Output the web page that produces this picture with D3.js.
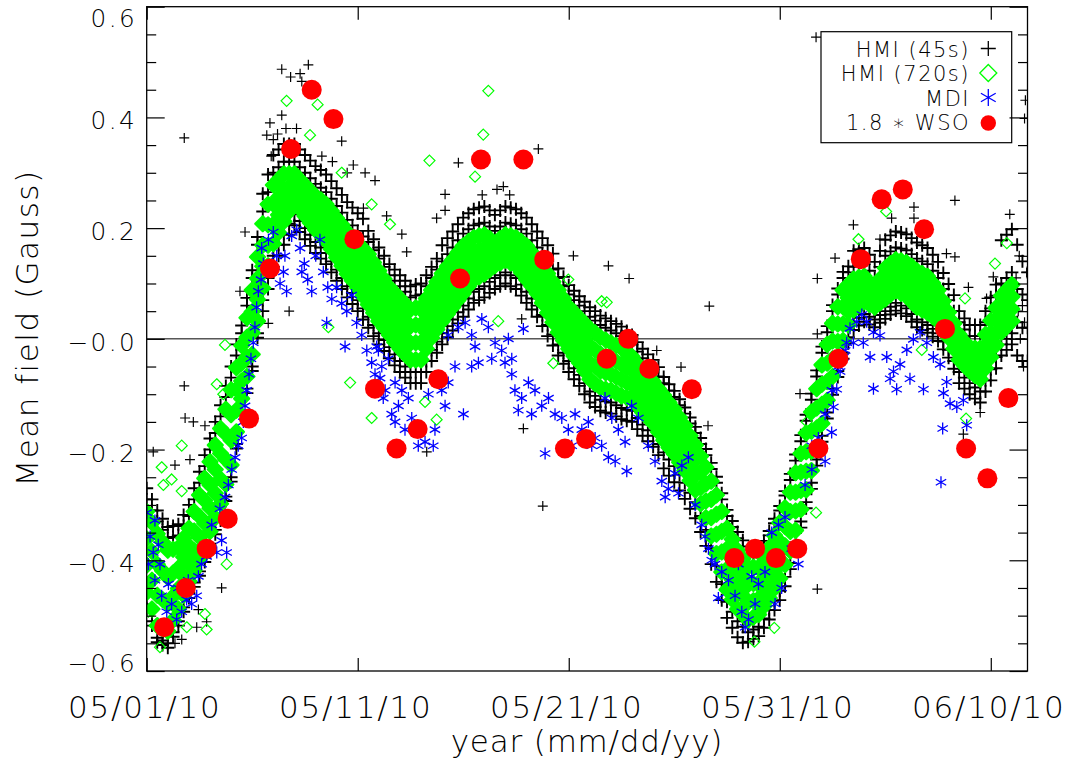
<!DOCTYPE html>
<html><head><meta charset="utf-8">
<script src="https://cdn.jsdelivr.net/npm/d3@7"></script>
<style>
body{margin:0;background:#fff}
text{font-family:"DejaVu Sans",sans-serif;font-weight:200;fill:#000}
</style>
</head><body>
<svg id="chart" width="1076" height="767"></svg>
<script>
// ---------- DATA (days since 2010-05-01 00:00 UT, mean field in Gauss) ----------
const xTickDays = [0, 10, 20, 30, 40];
const yMajorTicks = [-0.6, -0.4, -0.2, 0.0, 0.2, 0.4, 0.6];
const yTickLabels = ["\u22120.6", "\u22120.4", "\u22120.2", "\u22120.0", "0.2", "0.4", "0.6"];
const legendLabels = ["HMI (45s)", "HMI (720s)", "MDI", "1.8 \u2217 WSO"];

// sampling grid of the dense HMI series (every 6 h)
const dayGrid = d3.range(0, 41.76, 0.25);   // 168 samples, 0 ... 41.75

// HMI 45s (black +): outer-top / inner-top / inner-bottom / outer-bottom samples of the band
const hmi45Row1 = [-0.270,-0.290,-0.310,-0.325,-0.340,-0.338,-0.335,-0.318,-0.300,-0.270,
 -0.240,-0.210,-0.180,-0.150,-0.120,-0.085,-0.050,-0.010,0.024,0.074,
 0.124,0.184,0.262,0.297,0.332,0.342,0.352,0.352,0.352,0.342,
 0.332,0.322,0.312,0.305,0.297,0.285,0.272,0.260,0.247,0.237,
 0.227,0.217,0.195,0.180,0.165,0.150,0.135,0.125,0.115,0.105,
 0.095,0.098,0.100,0.115,0.130,0.145,0.169,0.182,0.194,0.207,
 0.219,0.227,0.234,0.237,0.239,0.232,0.224,0.232,0.239,0.237,
 0.234,0.227,0.219,0.207,0.194,0.182,0.169,0.154,0.127,0.112,
 0.097,0.087,0.077,0.067,0.057,0.050,0.042,0.037,0.032,0.027,
 0.022,0.014,0.007,-0.006,-0.018,-0.028,-0.038,-0.051,-0.069,-0.082,
 -0.094,-0.109,-0.124,-0.142,-0.159,-0.179,-0.199,-0.224,-0.249,-0.279,
 -0.309,-0.329,-0.349,-0.364,-0.382,-0.382,-0.382,-0.365,-0.347,-0.325,
 -0.302,-0.275,-0.244,-0.209,-0.174,-0.137,-0.099,-0.057,-0.014,0.023,
 0.061,0.091,0.121,0.131,0.159,0.162,0.164,0.152,0.139,0.159,
 0.179,0.187,0.194,0.192,0.189,0.182,0.174,0.169,0.164,0.152,
 0.139,0.119,0.099,0.079,0.050,0.037,0.025,0.025,0.025,0.050,
 0.075,0.098,0.178,0.188,0.198,0.170,0.140,0.120];
const hmi45Row2 = [-0.290,-0.310,-0.330,-0.345,-0.360,-0.358,-0.355,-0.338,-0.320,-0.290,
 -0.260,-0.230,-0.200,-0.170,-0.140,-0.105,-0.070,-0.030,0.010,0.060,
 0.110,0.170,0.230,0.265,0.300,0.310,0.320,0.320,0.320,0.310,
 0.300,0.290,0.280,0.273,0.265,0.253,0.240,0.228,0.215,0.205,
 0.195,0.185,0.175,0.160,0.145,0.130,0.115,0.105,0.095,0.085,
 0.075,0.078,0.080,0.095,0.110,0.125,0.140,0.153,0.165,0.178,
 0.190,0.198,0.205,0.208,0.210,0.203,0.195,0.203,0.210,0.208,
 0.205,0.198,0.190,0.178,0.165,0.153,0.140,0.125,0.110,0.095,
 0.080,0.070,0.060,0.050,0.040,0.033,0.025,0.020,0.015,0.010,
 0.005,-0.003,-0.010,-0.023,-0.035,-0.045,-0.055,-0.068,-0.080,-0.093,
 -0.105,-0.120,-0.135,-0.153,-0.170,-0.190,-0.210,-0.235,-0.260,-0.290,
 -0.320,-0.340,-0.360,-0.375,-0.390,-0.390,-0.390,-0.373,-0.355,-0.333,
 -0.310,-0.283,-0.255,-0.220,-0.185,-0.148,-0.110,-0.068,-0.025,0.012,
 0.050,0.080,0.110,0.120,0.130,0.133,0.135,0.123,0.110,0.130,
 0.150,0.158,0.165,0.163,0.160,0.153,0.145,0.140,0.135,0.123,
 0.110,0.090,0.070,0.050,0.030,0.017,0.005,0.005,0.005,0.030,
 0.055,0.078,0.100,0.110,0.120,0.090,0.080,0.070];
const hmi45Row3 = [-0.480,-0.510,-0.540,-0.545,-0.550,-0.530,-0.510,-0.485,-0.460,-0.440,
 -0.420,-0.395,-0.370,-0.345,-0.320,-0.285,-0.250,-0.190,-0.130,-0.090,
 -0.050,0.010,0.070,0.110,0.150,0.170,0.190,0.208,0.225,0.213,
 0.200,0.188,0.175,0.165,0.155,0.140,0.125,0.110,0.095,0.083,
 0.070,0.055,0.040,0.025,0.010,-0.002,-0.015,-0.028,-0.040,-0.050,
 -0.060,-0.060,-0.060,-0.040,-0.020,-0.005,0.010,0.023,0.035,0.048,
 0.060,0.073,0.085,0.090,0.095,0.103,0.110,0.115,0.120,0.115,
 0.110,0.098,0.085,0.073,0.060,0.043,0.025,0.008,-0.010,-0.025,
 -0.040,-0.053,-0.065,-0.080,-0.095,-0.103,-0.110,-0.113,-0.115,-0.120,
 -0.125,-0.128,-0.130,-0.143,-0.155,-0.165,-0.175,-0.190,-0.205,-0.218,
 -0.230,-0.245,-0.260,-0.278,-0.295,-0.320,-0.345,-0.378,-0.410,-0.443,
 -0.475,-0.493,-0.510,-0.520,-0.530,-0.525,-0.520,-0.505,-0.490,-0.473,
 -0.455,-0.430,-0.405,-0.368,-0.330,-0.295,-0.260,-0.218,-0.175,-0.133,
 -0.090,-0.058,-0.025,0.003,0.030,0.038,0.045,0.040,0.035,0.043,
 0.050,0.058,0.065,0.060,0.055,0.045,0.035,0.030,0.025,0.018,
 0.010,-0.005,-0.020,-0.040,-0.060,-0.070,-0.080,-0.088,-0.095,-0.075,
 -0.055,-0.033,-0.010,0.000,0.010,0.030,0.020,0.020];
const hmi45Row4 = [-0.488,-0.518,-0.548,-0.553,-0.558,-0.538,-0.518,-0.493,-0.468,-0.448,
 -0.428,-0.403,-0.378,-0.353,-0.328,-0.293,-0.258,-0.198,-0.138,-0.098,
 -0.058,0.002,0.050,0.090,0.130,0.150,0.170,0.188,0.205,0.193,
 0.180,0.168,0.155,0.145,0.135,0.120,0.105,0.090,0.075,0.063,
 0.050,0.035,0.020,0.005,-0.010,-0.022,-0.035,-0.048,-0.060,-0.070,
 -0.080,-0.080,-0.080,-0.060,-0.040,-0.025,-0.010,0.003,0.015,0.028,
 0.040,0.053,0.065,0.070,0.075,0.083,0.090,0.095,0.100,0.095,
 0.090,0.078,0.065,0.053,0.040,0.023,0.005,-0.012,-0.030,-0.045,
 -0.060,-0.073,-0.085,-0.100,-0.115,-0.123,-0.130,-0.133,-0.135,-0.140,
 -0.145,-0.148,-0.150,-0.163,-0.175,-0.185,-0.195,-0.210,-0.234,-0.247,
 -0.259,-0.274,-0.289,-0.307,-0.324,-0.349,-0.374,-0.407,-0.439,-0.472,
 -0.504,-0.522,-0.539,-0.549,-0.547,-0.542,-0.537,-0.522,-0.507,-0.490,
 -0.472,-0.447,-0.416,-0.379,-0.341,-0.306,-0.271,-0.229,-0.186,-0.144,
 -0.101,-0.069,-0.036,-0.008,0.016,0.024,0.031,0.026,0.021,0.029,
 0.036,0.044,0.051,0.046,0.041,0.031,0.021,0.016,0.011,0.004,
 -0.004,-0.019,-0.034,-0.054,-0.080,-0.090,-0.100,-0.108,-0.115,-0.095,
 -0.075,-0.053,-0.030,-0.020,-0.010,-0.030,-0.040,-0.040];
const hmi45Outliers = [[1.78,0.363],[6.4,0.487],[6.82,0.473],[7.27,0.479],[7.66,0.495],[7.35,0.465],
 [5.84,0.39],[5.69,0.368],[6.4,0.404],[9.24,0.357],[9.79,0.314],[10.35,0.30],[10.82,0.286],[10.27,0.236],
 [4.66,0.193],[4.42,0.086],[5.76,0.028],[6.75,0.05],[1.78,-0.085],[1.82,-0.143],[2.21,-0.15],[2.76,-0.157],
 [0.31,-0.204],[1.34,-0.228],[2.05,-0.218],[3.55,-0.45],[3.71,-0.314],[2.37,-0.521],[1.34,-0.55],[1.66,-0.543],
 [2.84,-0.511],[2.45,-0.489],[11.37,0.222],[12.09,0.189],[12.32,0.157],[14.14,0.261],[14.14,0.232],[13.74,0.218],
 [14.77,0.318],[18.56,0.343],[20.22,0.15],[21.88,0.132],[17.77,0.036],[17.85,-0.162],[18.77,-0.302],[13.27,-0.204],
 [22.86,0.109],[26.66,0.059],[25.32,-0.051],[24.17,-0.021],[30.96,-0.099],[31.78,0.109],[31.78,0.009],[32.62,0.146],
 [31.78,-0.452],[26.6,-0.157],[33.49,0.206],[34.75,0.18],[36.36,0.238],[36.36,0.218],[35.3,0.218],[38.3,0.25],
 [38.3,0.148],[37.9,0.154],[38.94,0.093],[39.8,0.073],[40.9,0.225],[40.12,0.112],[38.7,-0.172],[39.5,-0.133],
 [31.72,0.545],[41.64,0.431],[41.6,0.398],[16.6,0.27],[16.9,0.275],[17.2,0.26],[15.9,0.26],[6.0,0.36],[6.2,0.37],
 [6.6,0.38],[7.1,0.38],[5.9,0.33],[8.3,0.33],[8.8,0.32],[9.5,0.30],
 [41.3,0.05],[41.5,0.06],[41.4,0.0],[41.6,0.03],[41.2,0.11],[41.7,0.12],[41.35,0.15],[41.55,-0.05]];

// HMI 720s (green diamonds): band samples top -> bottom, plus isolated points
const hmi720Row1 = [-0.312,-0.332,-0.352,-0.367,-0.382,-0.380,-0.377,-0.360,-0.342,-0.312,
 -0.282,-0.252,-0.222,-0.192,-0.162,-0.127,-0.092,-0.052,-0.012,0.038,
 0.088,0.148,0.208,0.243,0.278,0.288,0.298,0.298,0.298,0.288,
 0.278,0.268,0.258,0.251,0.243,0.231,0.218,0.206,0.193,0.183,
 0.173,0.163,0.153,0.138,0.123,0.108,0.093,0.083,0.073,0.063,
 0.053,0.056,0.058,0.073,0.088,0.103,0.118,0.131,0.143,0.156,
 0.168,0.176,0.183,0.186,0.188,0.181,0.173,0.181,0.188,0.186,
 0.183,0.176,0.168,0.156,0.143,0.131,0.118,0.103,0.088,0.073,
 0.058,0.048,0.038,0.028,0.018,0.011,0.003,-0.002,-0.007,-0.012,
 -0.017,-0.025,-0.032,-0.045,-0.057,-0.067,-0.077,-0.090,-0.102,-0.115,
 -0.127,-0.142,-0.157,-0.175,-0.192,-0.212,-0.232,-0.257,-0.282,-0.312,
 -0.342,-0.362,-0.382,-0.397,-0.412,-0.412,-0.412,-0.395,-0.377,-0.355,
 -0.332,-0.305,-0.277,-0.242,-0.207,-0.170,-0.132,-0.090,-0.047,-0.010,
 0.028,0.058,0.088,0.098,0.108,0.111,0.113,0.101,0.088,0.108,
 0.128,0.136,0.143,0.141,0.138,0.131,0.123,0.118,0.113,0.101,
 0.088,0.068,0.048,0.028,0.008,-0.005,-0.017,-0.017,-0.017,0.008,
 0.033,0.056,0.078,0.088,0.098,null,null,null];
const hmi720Row2 = [-0.361,-0.384,-0.407,-0.419,-0.431,-0.423,-0.414,-0.394,-0.374,-0.347,
 -0.321,-0.292,-0.264,-0.236,-0.207,-0.172,-0.137,-0.091,-0.044,0.003,
 0.049,0.109,0.169,0.206,0.243,0.256,0.269,0.275,0.281,0.270,
 0.259,0.249,0.238,0.230,0.221,0.208,0.194,0.181,0.168,0.157,
 0.146,0.134,0.123,0.108,0.093,0.079,0.064,0.053,0.043,0.033,
 0.023,0.025,0.026,0.043,0.059,0.074,0.089,0.102,0.114,0.127,
 0.139,0.149,0.158,0.161,0.164,0.162,0.159,0.166,0.173,0.170,
 0.166,0.157,0.148,0.136,0.123,0.109,0.094,0.079,0.063,0.048,
 0.033,0.022,0.011,-0.001,-0.012,-0.020,-0.027,-0.032,-0.036,-0.041,
 -0.046,-0.052,-0.057,-0.070,-0.082,-0.092,-0.102,-0.116,-0.129,-0.142,
 -0.154,-0.169,-0.184,-0.202,-0.219,-0.241,-0.262,-0.290,-0.317,-0.348,
 -0.379,-0.398,-0.417,-0.431,-0.444,-0.442,-0.441,-0.424,-0.407,-0.387,
 -0.366,-0.339,-0.312,-0.277,-0.241,-0.204,-0.167,-0.125,-0.082,-0.044,
 -0.004,0.027,0.058,0.074,0.089,0.094,0.098,0.088,0.078,0.094,
 0.109,0.117,0.124,0.121,0.118,0.110,0.101,0.096,0.091,0.081,
 0.069,0.051,0.033,0.013,-0.007,-0.019,-0.031,-0.033,-0.036,-0.012,
 0.011,0.034,0.056,0.066,0.076,null,null,null];
const hmi720Row3 = [-0.409,-0.436,-0.463,-0.471,-0.479,-0.465,-0.451,-0.429,-0.406,-0.383,
 -0.359,-0.333,-0.306,-0.279,-0.253,-0.218,-0.183,-0.129,-0.076,-0.033,
 0.011,0.071,0.131,0.169,0.207,0.224,0.241,0.253,0.264,0.253,
 0.241,0.229,0.217,0.208,0.199,0.185,0.171,0.157,0.142,0.131,
 0.119,0.106,0.092,0.077,0.062,0.049,0.036,0.024,0.012,0.002,
 -0.008,-0.007,-0.006,0.012,0.031,0.046,0.061,0.074,0.086,0.099,
 0.111,0.122,0.132,0.137,0.141,0.144,0.146,0.152,0.157,0.153,
 0.149,0.139,0.127,0.115,0.102,0.087,0.071,0.054,0.037,0.022,
 0.007,-0.005,-0.016,-0.029,-0.043,-0.050,-0.058,-0.061,-0.064,-0.069,
 -0.074,-0.079,-0.083,-0.096,-0.108,-0.118,-0.128,-0.142,-0.156,-0.169,
 -0.181,-0.196,-0.211,-0.229,-0.246,-0.269,-0.293,-0.323,-0.353,-0.385,
 -0.416,-0.435,-0.453,-0.464,-0.476,-0.473,-0.469,-0.454,-0.438,-0.419,
 -0.399,-0.374,-0.348,-0.311,-0.274,-0.239,-0.203,-0.161,-0.118,-0.077,
 -0.036,-0.005,0.027,0.049,0.071,0.077,0.082,0.075,0.067,0.079,
 0.091,0.099,0.106,0.102,0.097,0.088,0.079,0.074,0.069,0.060,
 0.051,0.034,0.017,-0.003,-0.023,-0.034,-0.044,-0.050,-0.054,-0.033,
 -0.011,0.011,0.034,0.044,0.054,null,null,null];
const hmi720Row4 = [-0.458,-0.488,-0.518,-0.523,-0.528,-0.508,-0.488,-0.463,-0.438,-0.418,
 -0.398,-0.373,-0.348,-0.323,-0.298,-0.263,-0.228,-0.168,-0.108,-0.068,
 -0.028,0.032,0.092,0.132,0.172,0.192,0.212,0.230,0.247,0.235,
 0.222,0.210,0.197,0.187,0.177,0.162,0.147,0.132,0.117,0.105,
 0.092,0.077,0.062,0.047,0.032,0.020,0.007,-0.006,-0.018,-0.028,
 -0.038,-0.038,-0.038,-0.018,0.002,0.017,0.032,0.045,0.057,0.070,
 0.082,0.095,0.107,0.112,0.117,0.125,0.132,0.137,0.142,0.137,
 0.132,0.120,0.107,0.095,0.082,0.065,0.047,0.030,0.012,-0.003,
 -0.018,-0.031,-0.043,-0.058,-0.073,-0.081,-0.088,-0.091,-0.093,-0.098,
 -0.103,-0.106,-0.108,-0.121,-0.133,-0.143,-0.153,-0.168,-0.183,-0.196,
 -0.208,-0.223,-0.238,-0.256,-0.273,-0.298,-0.323,-0.356,-0.388,-0.421,
 -0.453,-0.471,-0.488,-0.498,-0.508,-0.503,-0.498,-0.483,-0.468,-0.451,
 -0.433,-0.408,-0.383,-0.346,-0.308,-0.273,-0.238,-0.196,-0.153,-0.111,
 -0.068,-0.036,-0.003,0.025,0.052,0.060,0.067,0.062,0.057,0.065,
 0.072,0.080,0.087,0.082,0.077,0.067,0.057,0.052,0.047,0.040,
 0.032,0.017,0.002,-0.018,-0.038,-0.048,-0.058,-0.066,-0.073,-0.053,
 -0.033,-0.011,0.012,0.022,0.032,null,null,null];
const hmi720Outliers = [[6.63,0.43],[8.1,0.423],[7.74,0.368],[10.66,0.243],[3.71,-0.011],[3.32,-0.082],[3.63,-0.1],
 [1.66,-0.193],[0.71,-0.232],[1.18,-0.254],[0.79,-0.264],[1.66,-0.275],[0.08,-0.493],[2.76,-0.497],[2.84,-0.525],
 [0.63,-0.557],[1.9,-0.521],[3.79,-0.407],[9.64,-0.079],[10.66,-0.143],[8.61,0.021],[9.24,0.30],[16.19,0.448],
 [15.95,0.369],[13.4,0.322],[11.53,0.207],[19.98,0.107],[21.56,0.068],[19.27,-0.044],[13.19,-0.114],[13.74,-0.146],
 [16.66,0.032],[15.56,0.293],[21.8,0.066],[31.72,-0.314],[29.74,-0.522],[28.8,-0.547],[31.28,-0.15],[33.73,0.18],
 [35.04,0.23],[40.2,0.136],[40.76,0.173],[38.83,-0.144],[38.78,0.073],[36.73,-0.02]];

// MDI (blue asterisks)
const mdiPoints = [[0.0,-0.314],[0.16,-0.357],[0.39,-0.328],[0.31,-0.386],[0.55,-0.372],[0.08,-0.407],
 [0.39,-0.436],[0.71,-0.464],[0.95,-0.493],[1.18,-0.479],[1.42,-0.507],[1.66,-0.493],[1.89,-0.471],[2.13,-0.479],
 [2.37,-0.464],[1.03,-0.443],[1.5,-0.45],[1.97,-0.436],[2.45,-0.429],[0.63,-0.407],
 [2.6,-0.407],[2.84,-0.393],[3.08,-0.379],[3.32,-0.386],[3.55,-0.364],[3.79,-0.386],[3.08,-0.336],[3.47,-0.307],
 [3.71,-0.286],[3.87,-0.264],[4.03,-0.236],[4.19,-0.214],[4.34,-0.193],[4.5,-0.179],[4.58,-0.15],[4.66,-0.121],
 [4.74,-0.093],[4.85,-0.064],[4.94,-0.036],[5.05,-0.007],[5.13,0.021],[5.21,0.057],[5.29,0.086],[5.42,0.107],
 [5.53,0.136],[5.45,0.164],[5.77,0.179],[6.0,0.193],[6.16,0.15],[6.32,0.1],[6.48,0.121],[6.63,0.086],[6.87,0.186],
 [7.11,0.197],[7.27,0.164],[7.47,0.136],[7.63,0.107],[7.82,0.086],[8.01,0.15],[8.21,0.179],[8.37,0.121],[8.58,0.093],
 [8.77,0.072],[7.35,0.121],[6.55,0.15],[9.0,0.093],[9.24,0.064],[9.48,0.05],[9.71,0.079],[9.95,0.029],[10.19,0.007],
 [8.53,0.029],[9.4,-0.014],[10.43,-0.021],[10.66,-0.043],[10.9,-0.014],[11.06,-0.071],[10.82,-0.064],[11.21,-0.107],
 [10.98,-0.021],[11.14,-0.05],[11.45,-0.036],[11.77,-0.079],[12.09,-0.093],[12.4,-0.107],[11.3,-0.093],[11.93,-0.121],
 [11.61,-0.136],[11.77,-0.15],[12.24,-0.164],[12.56,-0.143],[12.87,-0.193],[13.19,-0.186],[13.58,-0.193],[13.66,-0.164],
 [13.35,-0.1],[13.98,-0.093],[14.29,-0.079],[14.61,-0.05],[14.14,-0.121],[14.29,0.007],[14.77,0.021],[15.09,0.029],
 [15.4,0.007],[15.56,-0.014],[15.88,0.036],[16.19,0.021],[16.51,-0.007],[16.82,-0.021],[17.14,0.0],[15.72,-0.043],
 [16.35,-0.036],[16.98,-0.043],[17.3,-0.036],[15.01,-0.136],[15.4,-0.05],[17.3,-0.064],[17.45,-0.093],[17.77,-0.107],
 [18.09,-0.079],[18.4,-0.093],[18.72,-0.121],[19.04,-0.107],[19.35,-0.136],[17.61,-0.129],[18.24,-0.136],[17.85,0.018],
 [19.67,-0.143],[19.98,-0.164],[20.3,-0.136],[20.62,-0.164],[20.93,-0.15],[21.25,-0.179],[21.56,-0.193],[21.88,-0.214],
 [22.2,-0.221],[20.14,-0.193],[21.09,-0.193],[18.88,-0.207],[21.72,-0.107],[22.04,-0.143],[22.35,-0.164],[22.67,-0.186],
 [22.98,-0.121],[23.3,-0.143],[22.75,-0.239],[23.77,-0.193],[24.09,-0.221],[24.41,-0.257],[24.72,-0.271],[25.04,-0.243],
 [25.36,-0.229],[25.67,-0.214],[24.57,-0.286],[25.2,-0.279],[25.99,-0.3],[26.3,-0.336],[26.46,-0.357],[26.62,-0.379],
 [26.78,-0.4],[26.93,-0.407],[27.25,-0.421],[27.57,-0.436],[27.88,-0.464],[28.2,-0.493],[28.52,-0.507],[28.83,-0.479],
 [28.99,-0.443],[27.09,-0.468],[28.04,-0.407],[28.67,-0.429],[28.36,-0.521],[29.3,-0.421],[29.62,-0.35],[29.94,-0.336],
 [30.25,-0.322],[30.57,-0.379],[30.88,-0.407],[29.78,-0.479],[30.09,-0.45],[31.2,-0.264],[31.52,-0.236],[31.83,-0.179],
 [32.15,-0.136],[32.47,-0.093],[32.78,-0.05],[33.1,-0.021],[31.52,-0.193],[32.15,-0.221],[32.46,-0.169],[32.54,-0.123],
 [32.7,-0.091],[32.86,-0.059],[33.02,-0.033],[33.17,-0.007],[33.33,0.019],[33.65,0.031],[33.89,0.044],[34.12,0.031],
 [34.44,0.012],[33.96,-0.007],[33.49,-0.007],[34.28,-0.033],[34.75,0.006],[35.07,-0.033],[35.39,-0.059],[35.7,-0.046],
 [36.02,-0.02],[36.33,-0.001],[36.65,0.012],[36.97,-0.007],[37.28,-0.033],[37.6,-0.046],[35.23,-0.072],[36.17,-0.072],
 [36.81,-0.091],[35.54,-0.091],[37.76,-0.098],[38.07,-0.117],[38.39,-0.123],[38.7,-0.111],[38.86,-0.156],[37.91,-0.078],
 [34.44,-0.09],[37.72,-0.162],[37.64,-0.259]];

// WSO (red dots, already multiplied by 1.8)
const wsoDays = [0.83,1.85,2.84,3.84,4.85,5.84,6.84,7.82,8.85,9.84,10.82,11.84,12.84,13.82,14.85,15.84,17.85,18.84,19.82,20.82,
 21.8,22.82,23.82,25.83,27.85,28.83,29.82,30.83,31.83,32.78,33.84,34.83,35.83,36.84,37.83,38.83,39.84,40.83];
const wsoValues = [-0.521,-0.450,-0.379,-0.325,-0.144,0.127,0.343,0.450,0.397,0.180,-0.090,-0.198,-0.163,-0.073,0.109,0.324,0.324,0.143,-0.198,-0.181,
 -0.036,0.000,-0.054,-0.091,-0.396,-0.379,-0.396,-0.379,-0.198,-0.036,0.144,0.252,0.270,0.198,0.018,-0.198,-0.252,-0.107];

// ---------- CHART ----------
const svg = d3.select("#chart");
svg.append("rect").attr("width",1076).attr("height",767).attr("fill","#fff");
const L = 146.7, R = 1027.5, T = 6.7, B = 671;
const t0 = Date.UTC(2010, 4, 1), DAY = 864e5;
const toDate = d => new Date(t0 + d * DAY);
const x = d3.scaleUtc().domain([toDate(0), toDate(41.74)]).range([L, R]);
const y = d3.scaleLinear().domain([-0.6, 0.6]).range([B, T]);
const fmt = d3.utcFormat("%m/%d/%y");

svg.append("clipPath").attr("id","clip").append("rect")
  .attr("x",L).attr("y",T).attr("width",R-L).attr("height",B-T);
const plot = svg.append("g").attr("clip-path","url(#clip)");

// zero line
plot.append("line").attr("x1",L).attr("x2",R).attr("y1",y(0)).attr("y2",y(0))
  .attr("stroke","#000").attr("stroke-width",1);

const PLUS = "M-5,0H5M0,-5V5";
const PLUS_BAND = "M-6.5,0H6.5M0,-6.5V6.5";
const DIAM = "M0,-5.5L5.5,0L0,5.5L-5.5,0Z";
const DIAM_BAND = "M0,-7.5L7.5,0L0,7.5L-7.5,0Z";
const STAR = "M0,-6V6M-5.2,-3L5.2,3M-5.2,3L5.2,-3";

function marks(g, pts, d, attrs){
  const sel = g.append("g").selectAll("path").data(pts).join("path")
    .attr("d", d)
    .attr("transform", p => `translate(${x(toDate(p[0]))},${y(p[1])})`);
  for (const k in attrs) sel.attr(k, attrs[k]);
}
const zipRow = vals => dayGrid.map((d,i)=>[d, vals[i]]).filter(p=>p[1]!=null);

const blackBand = {fill:"none", stroke:"#000", "stroke-width":1.9};
[hmi45Row1, hmi45Row2, hmi45Row3, hmi45Row4].forEach(r => marks(plot, zipRow(r), PLUS_BAND, blackBand));
marks(plot, hmi45Outliers, PLUS, {fill:"none", stroke:"#000", "stroke-width":1.2});

const bandStyle = {fill:"#00ff00", stroke:"#00ff00", "stroke-width":2.2, "stroke-linejoin":"round"};
[hmi720Row1, hmi720Row2, hmi720Row3, hmi720Row4].forEach(r => marks(plot, zipRow(r), DIAM_BAND, bandStyle));
marks(plot, hmi720Outliers, DIAM, {fill:"none", stroke:"#00ff00", "stroke-width":1.2});

marks(plot, mdiPoints, STAR, {fill:"none", stroke:"#0000ff", "stroke-width":1.3});

plot.append("g").selectAll("circle").data(wsoDays.map((d,i)=>[d,wsoValues[i]])).join("circle")
  .attr("cx", p=>x(toDate(p[0]))).attr("cy", p=>y(p[1])).attr("r",10).attr("fill","#ff0000");

// ---------- AXES ----------
const yMinor = d3.range(-0.6, 0.6001, 0.05).filter(v => Math.abs(v*5 - Math.round(v*5)) > 1e-6);
function styleAxis(g){ g.select(".domain").remove(); g.selectAll("line").attr("stroke","#000").attr("stroke-width",1.2); g.selectAll("text").remove(); }
svg.append("g").attr("transform",`translate(${L},0)`).call(d3.axisLeft(y).tickValues(yMajorTicks).tickSize(-18).tickFormat("")).call(styleAxis);
svg.append("g").attr("transform",`translate(${L},0)`).call(d3.axisLeft(y).tickValues(yMinor).tickSize(-9.5).tickFormat("")).call(styleAxis);
svg.append("g").attr("transform",`translate(${R},0)`).call(d3.axisRight(y).tickValues(yMajorTicks).tickSize(-18).tickFormat("")).call(styleAxis);
svg.append("g").attr("transform",`translate(${R},0)`).call(d3.axisRight(y).tickValues(yMinor).tickSize(-9.5).tickFormat("")).call(styleAxis);
const xTicks = xTickDays.map(toDate);
svg.append("g").attr("transform",`translate(0,${B})`).call(d3.axisBottom(x).tickValues(xTicks).tickSize(-13).tickFormat("")).call(styleAxis);
svg.append("g").attr("transform",`translate(0,${T})`).call(d3.axisTop(x).tickValues(xTicks).tickSize(-13).tickFormat("")).call(styleAxis);

// frame
svg.append("rect").attr("x",L).attr("y",T).attr("width",R-L).attr("height",B-T)
  .attr("fill","none").attr("stroke","#000").attr("stroke-width",1.3);

// y tick labels
svg.append("g").selectAll("text").data(yMajorTicks).join("text")
  .attr("x", 137).attr("text-anchor","end")
  .attr("y", (v) => v >= 0.599 ? 27.3 : (v <= -0.599 ? 672 : y(v) + 12))
  .attr("font-size", 24.7).attr("letter-spacing", 2.4)
  .text((v,i) => yTickLabels[i]);

// x tick labels
svg.append("g").selectAll("text").data(xTicks).join("text")
  .attr("x", d => x(d) - 2).attr("y", 718.3).attr("text-anchor","middle")
  .attr("font-size", 31).attr("letter-spacing", 1.8)
  .text(d => fmt(d));

// axis titles
svg.append("text").attr("x", 587).attr("y", 751.7).attr("text-anchor","middle")
  .attr("font-size", 31).attr("letter-spacing", 0.8).text("year (mm/dd/yy)");
svg.append("text").attr("transform","translate(38,328) rotate(-90)").attr("text-anchor","middle")
  .attr("font-size", 31).attr("letter-spacing", 1.5).text("Mean field (Gauss)");

// ---------- LEGEND ----------
const lg = svg.append("g");
lg.append("rect").attr("x",821).attr("y",31.7).attr("width",190.7).attr("height",111)
  .attr("fill","none").attr("stroke","#000").attr("stroke-width",1.2);
const rowBase = [56.5, 81, 105.5, 130];
lg.selectAll("text").data(legendLabels).join("text")
  .attr("x", 970).attr("y", (d,i)=>rowBase[i]).attr("text-anchor","end")
  .attr("font-size", 21).attr("letter-spacing", 1.5).text(d=>d);
const sx = 988.3;
lg.append("path").attr("d","M-7.5,0H7.5M0,-7.5V7.5").attr("transform",`translate(${sx},${rowBase[0]-8})`)
  .attr("stroke","#000").attr("stroke-width",1.3).attr("fill","none");
lg.append("path").attr("d","M0,-8.5L8.5,0L0,8.5L-8.5,0Z").attr("transform",`translate(${sx},${rowBase[1]-8})`)
  .attr("stroke","#00ff00").attr("stroke-width",1.3).attr("fill","none");
lg.append("path").attr("d","M0,-8.5V8.5M-7.4,-4.25L7.4,4.25M-7.4,4.25L7.4,-4.25").attr("transform",`translate(${sx},${rowBase[2]-8})`)
  .attr("stroke","#0000ff").attr("stroke-width",1.3).attr("fill","none");
lg.append("circle").attr("cx",sx).attr("cy",rowBase[3]-7).attr("r",7.7).attr("fill","#ff0000");
</script>
</body></html>
